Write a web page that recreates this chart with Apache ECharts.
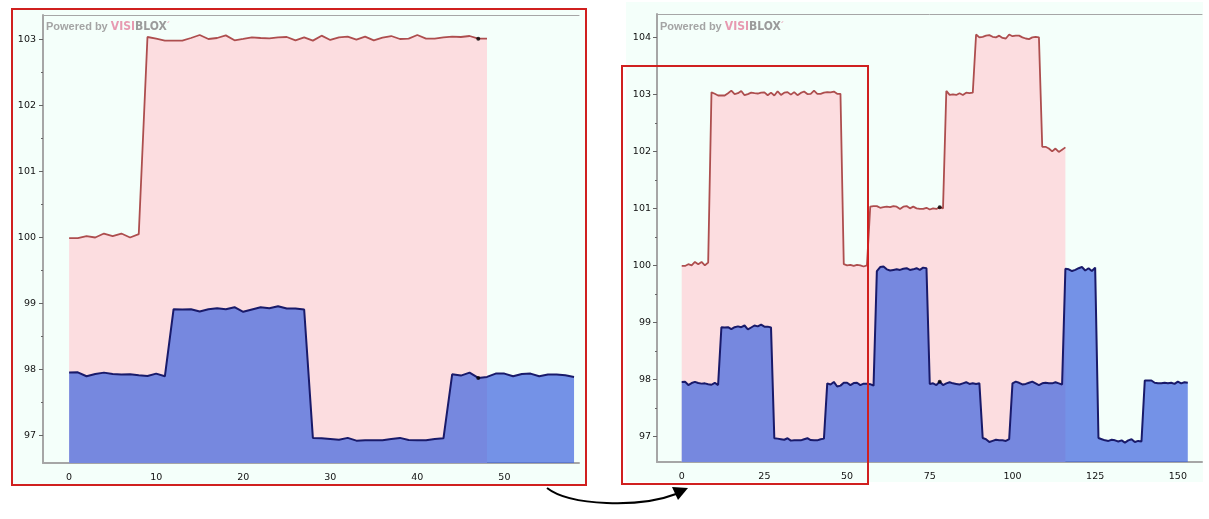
<!DOCTYPE html>
<html>
<head>
<meta charset="utf-8">
<script src="https://cdn.jsdelivr.net/npm/echarts@6/dist/echarts.min.js"></script>
<style>
html,body{margin:0;padding:0;background:#ffffff;}
#chart{width:1209px;height:519px;}
</style>
</head>
<body>
<div id="chart"></div>
<script>
// ---- data ----
const redLeft = [99.99, 99.99, 100.02, 100.0, 100.06, 100.02, 100.06, 100.0, 100.05,
  103.035, 103.01, 102.98, 102.98, 102.98, 103.02, 103.065, 103.005, 103.02, 103.06, 102.985, 103.005,
  103.03, 103.02, 103.015, 103.03, 103.035, 102.985, 103.03, 102.98, 103.055, 102.99, 103.03, 103.04,
  102.995, 103.04, 102.985, 103.025, 103.05, 103.005, 103.01, 103.065, 103.01, 103.01, 103.03, 103.04,
  103.035, 103.05, 103.01, 103.01];
const blueLeft = [97.955, 97.96, 97.90, 97.935, 97.955, 97.935, 97.925, 97.93, 97.915, 97.905, 97.94, 97.90,
  98.915, 98.91, 98.915, 98.88, 98.915, 98.93, 98.915, 98.945, 98.875, 98.91, 98.945, 98.93, 98.96, 98.925, 98.925, 98.91,
  96.967, 96.96, 96.95, 96.94, 96.967, 96.925, 96.93, 96.93, 96.93, 96.95, 96.967, 96.935, 96.93, 96.93, 96.95, 96.96,
  97.93, 97.91, 97.955, 97.875, 97.89, 97.94, 97.94, 97.9, 97.935, 97.94, 97.9, 97.925, 97.925, 97.915, 97.89];
const redRight = [99.99, 99.99, 100.02, 100.0, 100.06, 100.02, 100.06, 100.0, 100.05,
  103.035, 103.01, 102.98, 102.98, 102.98, 103.02, 103.065, 103.005, 103.02, 103.06, 102.985, 103.005,
  103.03, 103.02, 103.015, 103.03, 103.035, 102.985, 103.03, 102.98, 103.055, 102.99, 103.03, 103.04,
  102.995, 103.04, 102.985, 103.025, 103.05, 103.005, 103.01, 103.065, 103.01, 103.01, 103.03, 103.04,
  103.035, 103.05, 103.01, 103.01,
  100.02, 100.0, 100.01, 99.99, 100.01, 100.0, 99.98, 100.0,
  101.03, 101.04, 101.04, 101.01, 101.02, 101.03, 101.02, 101.04, 101.03, 100.99, 101.03, 101.04,
  101.0, 101.03, 101.0, 100.99, 100.99, 101.01, 100.98, 101.0, 100.99, 101.02, 101.0,
  103.06, 102.99, 103.0, 102.99, 103.02, 102.99, 103.03, 103.02, 103.03,
  104.05, 104.0, 104.01, 104.03, 104.04, 104.01, 104.0, 104.03, 103.99, 103.98, 104.05, 104.02,
  104.03, 104.03, 104.0, 103.98, 103.97, 104.0, 104.01, 104.0,
  102.08, 102.08, 102.05, 102.0, 102.05, 101.99, 102.03, 102.07];
const blueRight = [97.955, 97.96, 97.90, 97.935, 97.955, 97.935, 97.925, 97.93, 97.915, 97.905, 97.94, 97.90,
  98.915, 98.91, 98.915, 98.88, 98.915, 98.93, 98.915, 98.945, 98.875, 98.91, 98.945, 98.93, 98.96, 98.925, 98.925, 98.91,
  96.967, 96.96, 96.95, 96.94, 96.967, 96.925, 96.93, 96.93, 96.93, 96.95, 96.967, 96.935, 96.93, 96.93, 96.95, 96.96,
  97.93, 97.91, 97.955, 97.875, 97.89, 97.94, 97.94, 97.9, 97.935, 97.94, 97.9, 97.925, 97.925, 97.915, 97.89,
  99.90, 99.97, 99.98, 99.93, 99.91, 99.92, 99.93, 99.92, 99.94, 99.95, 99.92, 99.93, 99.95, 99.92, 99.96, 99.95,
  97.92, 97.93, 97.9, 97.96, 97.9, 97.93, 97.95, 97.93, 97.92, 97.91, 97.93, 97.95, 97.92, 97.93, 97.92, 97.93,
  96.97, 96.95, 96.9, 96.92, 96.94, 96.93, 96.93, 96.92, 96.95,
  97.93, 97.96, 97.94, 97.91, 97.92, 97.94, 97.96, 97.93, 97.9, 97.93, 97.94, 97.93, 97.93, 97.95, 97.93, 97.91,
  99.94, 99.93, 99.9, 99.92, 99.95, 99.97, 99.91, 99.95, 99.9, 99.96,
  96.97, 96.95, 96.93, 96.92, 96.94, 96.93, 96.91, 96.93, 96.89, 96.93, 96.95, 96.9, 96.92, 96.91,
  97.98, 97.98, 97.98, 97.94, 97.93, 97.93, 97.94, 97.93, 97.94, 97.92, 97.96, 97.93, 97.95, 97.94];
const markerLeft = 47;
const markerRight = 78;
const xTicksLeft = [0, 10, 20, 30, 40, 50];
const xTicksRight = [0, 25, 50, 75, 100, 125, 150];
const yTicksLeft = [97, 98, 99, 100, 101, 102, 103];
const yMinorLeft = [97.5, 98.5, 99.5, 100.5, 101.5, 102.5];
const yTicksRight = [97, 98, 99, 100, 101, 102, 103, 104];
const yMinorRight = [97.5, 98.5, 99.5, 100.5, 101.5, 102.5, 103.5];

// ---- style ----
const axisGray = '#a6a6a6';
const labelFont = {color: '#111', fontFamily: 'DejaVu Sans', fontSize: 9.5};
const redLine = '#ad4e4e';
const pinkFill = '#fcdde0';
const blueLine = '#191a6a';
const blueFill = 'rgba(64,101,222,0.71)';
const mint = '#f4fffa';

const pairs = arr => arr.map((v, i) => [i, v]);

function xAxes(grid, min, max, ticks) {
  return [
    {type: 'value', gridIndex: grid, min: min, max: max, position: 'bottom',
      axisLine: {show: true, onZero: false, lineStyle: {color: axisGray, width: 2}},
      axisTick: {show: false}, splitLine: {show: false},
      axisLabel: Object.assign({customValues: ticks, margin: 10}, labelFont)},
    {type: 'value', gridIndex: grid, min: min, max: max, position: 'top',
      axisLine: {show: true, onZero: false, lineStyle: {color: axisGray, width: 1}},
      axisTick: {show: false}, axisLabel: {show: false}, splitLine: {show: false}}
  ];
}
function yAxes(grid, min, max, ticks, minor, margin) {
  return [
    {type: 'value', gridIndex: grid, min: min, max: max, position: 'left',
      axisLine: {show: true, onZero: false, lineStyle: {color: axisGray, width: 2}},
      axisTick: {show: true, customValues: ticks, length: 4, lineStyle: {color: '#666', width: 1}},
      splitLine: {show: false},
      axisLabel: Object.assign({customValues: ticks, margin: margin}, labelFont)},
    {type: 'value', gridIndex: grid, min: min, max: max, position: 'left',
      axisLine: {show: false, onZero: false},
      axisTick: {show: true, customValues: minor, length: 2, lineStyle: {color: '#666', width: 1}},
      axisLabel: {show: false}, splitLine: {show: false}}
  ];
}
function areaSeries(xi, yi, data, line, fill, lw, z) {
  return {type: 'line', xAxisIndex: xi, yAxisIndex: yi, data: pairs(data), symbol: 'none',
    silent: true, animation: false, z: z,
    lineStyle: {color: line, width: lw}, areaStyle: {color: fill, opacity: 1, origin: 'start'}};
}
function dot(xi, yi, idx, data) {
  return {type: 'scatter', xAxisIndex: xi, yAxisIndex: yi, data: [[idx, data[idx]]],
    symbolSize: 4, itemStyle: {color: '#000'}, z: 10, animation: false, silent: true};
}
function powered(x, y) {
  return {type: 'text', left: x, top: y, z: 50, style: {
    text: '{a|Powered by }{b|VISI}{c|BLOX}{d|´}',
    rich: {
      a: {fontFamily: 'Liberation Sans', fontWeight: 'bold', fontSize: 11, fill: '#a4a4a4'},
      b: {fontFamily: 'DejaVu Sans Condensed', fontWeight: 'bold', fontSize: 12, fill: '#e79ab1'},
      c: {fontFamily: 'DejaVu Sans Condensed', fontWeight: 'bold', fontSize: 12, fill: '#9b9b9b'},
      d: {fontFamily: 'Liberation Sans', fontSize: 11, fill: '#e79ab1'}
    }}};
}

const chart = echarts.init(document.getElementById('chart'), null, {renderer: 'canvas'});
chart.setOption({
  animation: false,
  backgroundColor: '#ffffff',
  grid: [
    {left: 43, top: 15, width: 536, height: 448},
    {left: 657, top: 14, width: 545, height: 448}
  ],
  xAxis: [].concat(xAxes(0, -3, 58.57, xTicksLeft), xAxes(1, -7.47, 157.3, xTicksRight)),
  yAxis: [].concat(yAxes(0, 96.587, 103.368, yTicksLeft, yMinorLeft, 7), yAxes(1, 96.55, 104.41, yTicksRight, yMinorRight, 6)),
  series: [
    areaSeries(0, 0, redLeft, redLine, pinkFill, 1.8, 2),
    areaSeries(0, 0, blueLeft, blueLine, blueFill, 2, 3),
    dot(0, 0, markerLeft, redLeft),
    dot(0, 0, markerLeft, blueLeft),
    areaSeries(2, 2, redRight, redLine, pinkFill, 1.8, 2),
    areaSeries(2, 2, blueRight, blueLine, blueFill, 2, 3),
    dot(2, 2, markerRight, redRight),
    dot(2, 2, markerRight, blueRight)
  ],
  graphic: [
    {type: 'rect', z: -10, shape: {x: 13, y: 10, width: 572, height: 474}, style: {fill: mint}},
    {type: 'rect', z: -10, shape: {x: 626, y: 2, width: 577, height: 480}, style: {fill: mint}},
    powered(46, 21),
    powered(660, 21),
    {type: 'rect', z: 100, shape: {x: 12, y: 9, width: 574, height: 476},
      style: {fill: 'none', stroke: '#d0201f', lineWidth: 2}},
    {type: 'rect', z: 100, shape: {x: 622, y: 66, width: 246, height: 418},
      style: {fill: 'none', stroke: '#d0201f', lineWidth: 2}},
    {type: 'bezierCurve', z: 100, shape: {x1: 547, y1: 488, cpx1: 570, cpy1: 506, cpx2: 640, cpy2: 508, x2: 676, y2: 494},
      style: {stroke: '#000', lineWidth: 2, fill: 'none'}},
    {type: 'polygon', z: 100, shape: {points: [[688, 488], [672, 487], [678, 500]]},
      style: {fill: '#000'}}
  ]
});
</script>
</body>
</html>
